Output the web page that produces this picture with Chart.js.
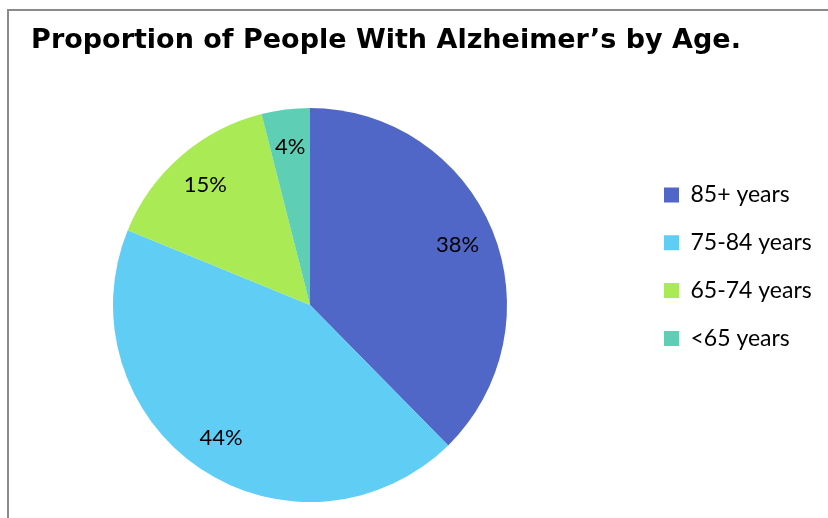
<!DOCTYPE html>
<html>
<head>
<meta charset="utf-8">
<script src="https://cdn.jsdelivr.net/npm/chart.js"></script>
<style>
  html, body { margin: 0; padding: 0; background: #fff; }
  #wrap { position: relative; width: 828px; height: 518px; overflow: hidden; }
  #frame {
    position: absolute; left: 7px; top: 9px;
    width: 900px; height: 600px;
    border: 2px solid #8a8a8a; background: #fff;
  }
  #chart { position: absolute; left: 0; top: 0; }
</style>
</head>
<body>
<div id="wrap">
  <div id="frame"></div>
  <canvas id="chart" width="828" height="518"></canvas>
</div>
<script>
// Chart data
const chartTitle = "Proportion of People With Alzheimer\u2019s by Age.";
const ageGroups = ["85+ years", "75-84 years", "65-74 years", "<65 years"];
const percentValues = [38, 44, 15, 4];
const sliceColors = ["#5067c8", "#60cdf4", "#aaea55", "#5ecfb4"];

const FONT = "Lato, 'Open Sans', sans-serif";
const LEGEND_X = 664; // where the legend boxes start

// draw the % labels inside each slice
const sliceLabels = {
  id: "sliceLabels",
  afterDatasetsDraw(chart) {
    const ctx = chart.ctx;
    const meta = chart.getDatasetMeta(0);
    const total = percentValues.reduce((a, b) => a + b, 0);
    ctx.save();
    ctx.font = "22px " + FONT;
    ctx.fillStyle = "#000";
    ctx.textAlign = "center";
    ctx.textBaseline = "middle";
    meta.data.forEach((arc, i) => {
      const p = arc.getProps(["x", "y", "startAngle", "endAngle", "outerRadius"], true);
      const mid = (p.startAngle + p.endAngle) / 2;
      const r = p.outerRadius * 0.81;
      const label = Math.round(percentValues[i] / total * 100) + "%";
      ctx.fillText(label, p.x + Math.cos(mid) * r, p.y + Math.sin(mid) * r);
    });
    ctx.restore();
  }
};

// push the legend a bit to the right of its layout slot, like Excel does
const legendPlacer = {
  id: "legendPlacer",
  afterLayout(chart) {
    const lg = chart.legend;
    lg.left = LEGEND_X - lg.options.labels.padding;
    lg.right = chart.width;
    lg.width = lg.right - lg.left;
  }
};

new Chart(document.getElementById("chart"), {
  type: "pie",
  data: {
    labels: ageGroups,
    datasets: [{
      data: percentValues,
      backgroundColor: sliceColors,
      borderWidth: 0
    }]
  },
  options: {
    responsive: false,
    animation: false,
    devicePixelRatio: 1,
    layout: { padding: { left: 0, right: 56, top: 0, bottom: 16 } },
    plugins: {
      tooltip: { enabled: false },
      title: {
        display: true,
        text: chartTitle,
        align: "center",
        color: "#000",
        font: { family: "'DejaVu Sans', sans-serif", size: 27, weight: "bold", lineHeight: 1.2 },
        padding: { top: 25.2, bottom: 50.4 }
      },
      legend: {
        position: "right",
        align: "start",
        fullSize: false,
        maxWidth: 152,
        title: { display: true, text: "", font: { size: 10, lineHeight: 1 }, padding: { top: 0, bottom: 40.7 } },
        labels: {
          color: "#000",
          font: { family: FONT, size: 23 },
          boxWidth: 15,
          boxHeight: 15,
          padding: 24.8
        }
      }
    }
  },
  plugins: [sliceLabels, legendPlacer]
});
</script>
</body>
</html>
